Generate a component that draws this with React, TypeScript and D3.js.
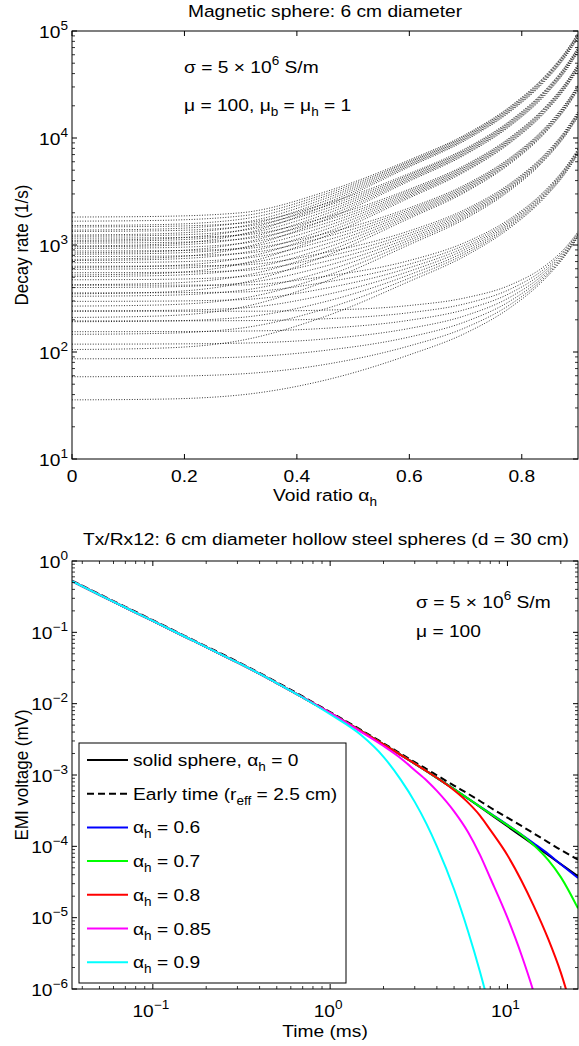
import React from 'react';
import * as d3 from 'd3';

const W = 579;
const H = 1046;
const FONT = '"Liberation Sans", Arial, Helvetica, sans-serif';
const STRETCH = 1.13;

// ---------- Upper panel: decay rates of a hollow magnetic sphere ----------
const voidRatio = [0, 0.15, 0.3, 0.45, 0.6, 0.7, 0.78, 0.84, 0.88, 0.9];

// one array per radial band, one row per angular order l = 1..7
const band1 = [
  [35.7, 36.2, 39.7, 54.5, 94.1, 150, 261, 475, 830, 1187],
  [58.7, 59.2, 62.4, 76.5, 114, 169, 279, 493, 847, 1203],
  [86.4, 86.8, 89.6, 103.5, 138, 192, 301, 514, 867, 1223],
  [118.4, 118.8, 121, 132.4, 166, 219, 327, 538, 890, 1246],
  [154.8, 155.1, 156.7, 166.5, 198, 250, 356, 566, 917, 1271],
  [195.4, 195.5, 196.4, 204.3, 233, 283, 388, 597, 946, 1300],
  [240.3, 240.3, 240.4, 246.2, 272, 321, 424, 631, 979, 1332],
];
const band2 = [
  [105.5, 108.4, 128.1, 214.6, 457, 793, 1457, 2739, 4858, 6990],
  [146.3, 149, 167.1, 252.7, 490, 829, 1503, 2807, 4966, 7140],
  [191.9, 194.3, 210.2, 295.1, 527, 868, 1552, 2879, 5077, 7293],
  [242.3, 244.3, 257.4, 341.6, 568, 912, 1603, 2951, 5190, 7445],
  [297.3, 298.8, 308.5, 393, 613, 957, 1657, 3027, 5305, 7601],
  [357, 357.9, 363.8, 448.3, 662, 1007, 1714, 3105, 5421, 7758],
  [421, 421.3, 423, 509, 716, 1060, 1774, 3185, 5540, 7917],
];
const band3 = [
  [210.3, 216.6, 260.8, 455, 1007, 1765, 3261, 6147, 10918, 15715],
  [268.5, 274.6, 316.1, 510.7, 1056, 1824, 3344, 6284, 11147, 16040],
  [331.8, 337.5, 375.5, 570.5, 1109, 1885, 3429, 6422, 11378, 16364],
  [400, 405.1, 438.4, 633.3, 1164, 1948, 3516, 6563, 11610, 16691],
  [473, 477.3, 505.3, 700.4, 1225, 2015, 3606, 6705, 11843, 17018],
  [550.7, 554.1, 576.2, 772, 1288, 2086, 3698, 6849, 12078, 17346],
  [633.2, 635.6, 650.9, 848.4, 1355, 2158, 3793, 6994, 12314, 17676],
];
const band4 = [
  [349.9, 361.1, 439.7, 785.6, 1774, 3124, 5785, 10918, 19399, 27930],
  [425.6, 436.5, 511, 859.2, 1840, 3210, 5917, 11149, 19797, 28497],
  [506.5, 516.7, 585.9, 935.2, 1909, 3298, 6052, 11381, 20195, 29064],
  [592.2, 601.6, 664.2, 1014.8, 1982, 3388, 6188, 11614, 20595, 29631],
  [683, 691.4, 746.3, 1098.8, 2060, 3482, 6327, 11850, 20994, 30200],
  [778.6, 785.8, 832.2, 1187, 2140, 3577, 6467, 12086, 21396, 30770],
  [879, 884.7, 921.7, 1279, 2223, 3677, 6609, 12323, 21799, 31341],
];
const band5 = [
  [524.4, 541.7, 664.5, 1206, 2756, 4869, 9029, 17053, 30306, 43637],
  [617.6, 634.5, 751.5, 1297, 2843, 4989, 9226, 17404, 30919, 44515],
  [716, 732.1, 841.7, 1391, 2933, 5111, 9423, 17757, 31534, 45395],
  [819.3, 834.3, 935, 1488, 3025, 5234, 9622, 18110, 32149, 46274],
  [927.7, 941.4, 1032, 1589, 3122, 5361, 9823, 18466, 32765, 47155],
  [1040.9, 1053, 1132, 1693, 3221, 5490, 10024, 18821, 33381, 48036],
  [1159, 1169, 1236, 1803, 3324, 5620, 10228, 19178, 33999, 48918],
];
const band6 = [
  [733.8, 758.7, 935.4, 1717, 3956, 7001, 12994, 24551, 43637, 62834],
  [844.5, 868.8, 1038, 1826, 4067, 7161, 13267, 25051, 44516, 64096],
  [960.3, 983.5, 1143, 1938, 4180, 7325, 13542, 25552, 45395, 65357],
  [1081, 1103, 1251, 2053, 4295, 7489, 13817, 26053, 46274, 66619],
  [1207, 1227, 1362, 2172, 4414, 7655, 14095, 26555, 47155, 67881],
  [1338, 1356, 1477, 2294, 4536, 7824, 14373, 27058, 48035, 69144],
  [1474.8, 1491, 1596, 2421, 4661, 7995, 14653, 27561, 48917, 70408],
];
const band7 = [
  [978.2, 1012, 1253, 2317, 5373, 9520, 17680, 33413, 59392, 85523],
  [1106.3, 1139, 1370, 2446, 5511, 9730, 18045, 34087, 60584, 87237],
  [1239.6, 1271, 1490, 2577, 5651, 9940, 18411, 34763, 61777, 88951],
  [1378, 1408, 1612, 2711, 5794, 10153, 18778, 35440, 62970, 90665],
  [1521, 1549, 1738, 2848, 5939, 10367, 19146, 36116, 64163, 92380],
  [1669.8, 1696, 1866, 2989, 6086, 10583, 19515, 36794, 65357, 94094],
  [1825.7, 1849, 2000, 3135, 6237, 10800, 19886, 37473, 66552, 95809],
];
const decayBands = [band1, band2, band3, band4, band5, band6, band7];
const voidTicks = [0, 0.2, 0.4, 0.6, 0.8];
const voidTickLabels = ['0', '0.2', '0.4', '0.6', '0.8'];
const decayExponents = [1, 2, 3, 4, 5];

// ---------- Lower panel: EMI transient response ----------
const timeMs = [0.035, 0.05, 0.07, 0.1, 0.15, 0.2, 0.3, 0.5, 0.7, 1, 1.5, 2, 2.5, 3, 3.5, 4, 5, 6, 7, 8, 10, 12, 14, 17, 20, 25];
type V = number | null;
const solidSphere: V[] = [0.52, 0.336, 0.223, 0.1445, 0.0881, 0.062, 0.0378, 0.01948, 0.01229, 0.00743, 0.00413, 0.00269, 0.001916, 0.001444, 0.001132, 0.000914, 0.000633, 0.000464, 0.000356, 0.000282, 0.000191, 0.0001386, 0.0001057, 0.0000751, 0.0000564, 0.0000381];
const earlyTime: V[] = [0.53, 0.343, 0.228, 0.148, 0.0902, 0.0636, 0.0388, 0.02, 0.01262, 0.00762, 0.00425, 0.00278, 0.00199, 0.00151, 0.00121, 0.00099, 0.00071, 0.000545, 0.000432, 0.00035, 0.000252, 0.000193, 0.000153, 0.000114, 0.000089, 0.000065];
const hollow060: V[] = [0.52, 0.336, 0.223, 0.1445, 0.0881, 0.062, 0.0378, 0.01948, 0.01229, 0.00743, 0.00413, 0.00269, 0.001916, 0.001444, 0.001132, 0.000914, 0.000633, 0.000468, 0.000362, 0.00029, 0.0002, 0.000146, 0.000111, 0.000078, 0.000056, 0.000036];
const hollow070: V[] = [0.52, 0.336, 0.223, 0.1445, 0.0881, 0.062, 0.0378, 0.01948, 0.01229, 0.00743, 0.00413, 0.00269, 0.001916, 0.001444, 0.001132, 0.000914, 0.000635, 0.000468, 0.00036, 0.000287, 0.000198, 0.000145, 0.000105, 0.000064, 0.000037, 0.0000135];
const hollow080: V[] = [0.52, 0.336, 0.223, 0.1445, 0.0881, 0.062, 0.0378, 0.01948, 0.01229, 0.00743, 0.00413, 0.00269, 0.001916, 0.001444, 0.001132, 0.000914, 0.00061, 0.00041, 0.00027, 0.00017, 0.000075, 0.000033, 0.000015, 0.000005, 0.0000017, 0.00000025];
const hollow085: V[] = [0.52, 0.336, 0.223, 0.1445, 0.0881, 0.062, 0.0378, 0.01948, 0.01229, 0.00743, 0.004, 0.00255, 0.00172, 0.00117, 0.00084, 0.0006, 0.00031, 0.000158, 0.000076, 0.000036, 0.00001, 0.000003, 0.00000093, 0.00000015, null, null];
const hollow090: V[] = [0.52, 0.336, 0.223, 0.1445, 0.0881, 0.062, 0.0378, 0.01948, 0.0122, 0.0071, 0.0036, 0.0018, 0.00086, 0.00042, 0.000205, 0.0001, 0.000025, 0.0000064, 0.00000175, 0.0000005, null, null, null, null, null, null];

const emiSeries = [
  { values: solidSphere, color: '#000000', dash: '', tail: ' = 0' },
  { values: earlyTime, color: '#000000', dash: '7,4', tail: '' },
  { values: hollow060, color: '#0000ff', dash: '', tail: ' = 0.6' },
  { values: hollow070, color: '#00ff00', dash: '', tail: ' = 0.7' },
  { values: hollow080, color: '#ff0000', dash: '', tail: ' = 0.8' },
  { values: hollow085, color: '#ff00ff', dash: '', tail: ' = 0.85' },
  { values: hollow090, color: '#00ffff', dash: '', tail: ' = 0.9' },
];
const timeMajor = [0.1, 1, 10];
const timeExponents = ['\u22121', '0', '1'];
const emiExponents = [-6, -5, -4, -3, -2, -1, 0];

// ---------- geometry ----------
const top = { left: 72, right: 578, top: 31, bottom: 459 };
const bot = { left: 72, right: 578, top: 561, bottom: 989 };

const xVoid = d3.scaleLinear().domain([0, 0.9]).range([top.left, top.right]);
const yDecay = d3.scaleLog().domain([10, 1e5]).range([top.bottom, top.top]);
const xTime = d3.scaleLog().domain([0.035, 25]).range([bot.left, bot.right]);
const yEmi = d3.scaleLog().domain([1e-6, 1]).range([bot.bottom, bot.top]);

function logMinors(lo: number, hi: number): number[] {
  const out: number[] = [];
  for (let e = Math.floor(Math.log10(lo)); e <= Math.ceil(Math.log10(hi)); e++) {
    for (let k = 2; k <= 9; k++) {
      const v = k * Math.pow(10, e);
      if (v > lo * 1.0001 && v < hi * 0.9999) out.push(v);
    }
  }
  return out;
}

function Txt(props: { x: number; y: number; anchor?: string; size?: number; rotate?: number; children: React.ReactNode }) {
  const { x, y, anchor = 'start', size = 17, rotate, children } = props;
  const t = `translate(${x},${y}) scale(${STRETCH},1)` + (rotate ? ` rotate(${rotate})` : '');
  return (
    <g transform={t}>
      <text textAnchor={anchor} fontSize={size} fontFamily={FONT} fill="#000">
        {children}
      </text>
    </g>
  );
}

const SUP = { fontSize: 12 };

function Pow10({ x, y, exp, anchor }: { x: number; y: number; exp: string; anchor: string }) {
  return (
    <Txt x={x} y={y} anchor={anchor}>
      10<tspan {...SUP} dy={-8}>{exp}</tspan>
    </Txt>
  );
}

function Frame({ b }: { b: typeof top }) {
  return (
    <rect x={b.left} y={b.top} width={b.right - b.left} height={b.bottom - b.top} fill="none" stroke="#000" strokeWidth={1} />
  );
}

export default function App() {
  const decayLine = d3
    .line<[number, number]>()
    .x((d) => xVoid(d[0]))
    .y((d) => yDecay(d[1]))
    .curve(d3.curveMonotoneX);

  const emiLine = d3
    .line<[number, V]>()
    .defined((d) => d[1] != null)
    .x((d) => xTime(d[0]))
    .y((d) => yEmi(d[1] as number))
    .curve(d3.curveMonotoneX);

  const decayMinors = logMinors(10, 1e5);
  const timeMinors = logMinors(0.035, 25);
  const emiMinors = logMinors(1e-6, 1);

  const legendTop = 743;
  const legendRow = (i: number) => 760 + i * 33.7;

  return (
    <svg width={W} height={H} style={{ position: 'absolute', left: 0, top: 0, background: '#fff' }} xmlns="http://www.w3.org/2000/svg">
      <rect x={0} y={0} width={W} height={H} fill="#fff" />
      <defs>
        <clipPath id="clipTop">
          <rect x={top.left} y={top.top} width={top.right - top.left} height={top.bottom - top.top} />
        </clipPath>
        <clipPath id="clipBot">
          <rect x={bot.left} y={bot.top} width={bot.right - bot.left} height={bot.bottom - bot.top} />
        </clipPath>
      </defs>

      {/* ===== Upper panel ===== */}
      <Txt x={(top.left + top.right) / 2} y={17} anchor="middle">Magnetic sphere: 6 cm diameter</Txt>

      <g clipPath="url(#clipTop)">
        {decayBands.map((band, bi) =>
          band.map((row, li) => (
            <path
              key={`b${bi}-${li}`}
              d={decayLine(row.map((v, i) => [voidRatio[i], v] as [number, number])) || ''}
              fill="none"
              stroke="#000"
              strokeWidth={0.8}
              strokeDasharray="1,1.6"
            />
          ))
        )}
      </g>

      {voidTicks.map((v) => (
        <g key={`vt${v}`}>
          <line x1={xVoid(v)} x2={xVoid(v)} y1={top.bottom} y2={top.bottom - 5} stroke="#000" />
          <line x1={xVoid(v)} x2={xVoid(v)} y1={top.top} y2={top.top + 5} stroke="#000" />
        </g>
      ))}
      {decayExponents.map((e) => (
        <g key={`dt${e}`}>
          <line x1={top.left} x2={top.left + 5} y1={yDecay(Math.pow(10, e))} y2={yDecay(Math.pow(10, e))} stroke="#000" />
          <line x1={top.right} x2={top.right - 5} y1={yDecay(Math.pow(10, e))} y2={yDecay(Math.pow(10, e))} stroke="#000" />
        </g>
      ))}
      {decayMinors.map((v) => (
        <g key={`dm${v}`}>
          <line x1={top.left} x2={top.left + 3} y1={yDecay(v)} y2={yDecay(v)} stroke="#000" strokeWidth={0.8} />
          <line x1={top.right} x2={top.right - 3} y1={yDecay(v)} y2={yDecay(v)} stroke="#000" strokeWidth={0.8} />
        </g>
      ))}
      <Frame b={top} />

      {voidTicks.map((v, i) => (
        <Txt key={`vl${v}`} x={xVoid(v)} y={482} anchor="middle">{voidTickLabels[i]}</Txt>
      ))}
      {decayExponents.map((e) => (
        <Pow10 key={`dl${e}`} x={68} y={yDecay(Math.pow(10, e)) + 6.5} exp={String(e)} anchor="end" />
      ))}

      <Txt x={(top.left + top.right) / 2} y={501} anchor="middle">
        Void ratio {'\u03B1'}<tspan {...SUP} dy={5}>h</tspan>
      </Txt>
      <Txt x={28} y={(top.top + top.bottom) / 2} anchor="middle" rotate={-90}>Decay rate (1/s)</Txt>

      <Txt x={184} y={73}>
        {'\u03C3 = 5 \u00D7 10'}<tspan {...SUP} dy={-8}>6</tspan><tspan dy={8}> S/m</tspan>
      </Txt>
      <Txt x={184} y={111}>
        {'\u03BC = 100, \u03BC'}<tspan {...SUP} dy={5}>b</tspan><tspan dy={-5}>{' = \u03BC'}</tspan>
        <tspan {...SUP} dy={5}>h</tspan><tspan dy={-5}> = 1</tspan>
      </Txt>

      {/* ===== Lower panel ===== */}
      <Txt x={326} y={545} anchor="middle">Tx/Rx12: 6 cm diameter hollow steel spheres (d = 30 cm)</Txt>

      <g clipPath="url(#clipBot)">
        {emiSeries.map((s, i) => (
          <path
            key={`e${i}`}
            d={emiLine(timeMs.map((t, k) => [t, s.values[k]] as [number, V])) || ''}
            fill="none"
            stroke={s.color}
            strokeWidth={2}
            strokeDasharray={s.dash || undefined}
          />
        ))}
      </g>

      {timeMajor.map((t) => (
        <g key={`tt${t}`}>
          <line x1={xTime(t)} x2={xTime(t)} y1={bot.bottom} y2={bot.bottom - 5} stroke="#000" />
          <line x1={xTime(t)} x2={xTime(t)} y1={bot.top} y2={bot.top + 5} stroke="#000" />
        </g>
      ))}
      {timeMinors.map((t) => (
        <g key={`tm${t}`}>
          <line x1={xTime(t)} x2={xTime(t)} y1={bot.bottom} y2={bot.bottom - 3} stroke="#000" strokeWidth={0.8} />
          <line x1={xTime(t)} x2={xTime(t)} y1={bot.top} y2={bot.top + 3} stroke="#000" strokeWidth={0.8} />
        </g>
      ))}
      {emiExponents.map((e) => (
        <g key={`et${e}`}>
          <line x1={bot.left} x2={bot.left + 5} y1={yEmi(Math.pow(10, e))} y2={yEmi(Math.pow(10, e))} stroke="#000" />
          <line x1={bot.right} x2={bot.right - 5} y1={yEmi(Math.pow(10, e))} y2={yEmi(Math.pow(10, e))} stroke="#000" />
        </g>
      ))}
      {emiMinors.map((v) => (
        <g key={`em${v}`}>
          <line x1={bot.left} x2={bot.left + 3} y1={yEmi(v)} y2={yEmi(v)} stroke="#000" strokeWidth={0.8} />
          <line x1={bot.right} x2={bot.right - 3} y1={yEmi(v)} y2={yEmi(v)} stroke="#000" strokeWidth={0.8} />
        </g>
      ))}
      <Frame b={bot} />

      {timeMajor.map((t, i) => (
        <Pow10 key={`tl${t}`} x={xTime(t) - 2} y={1017} exp={timeExponents[i]} anchor="middle" />
      ))}
      {emiExponents.map((e) => (
        <Pow10 key={`el${e}`} x={68} y={yEmi(Math.pow(10, e)) + 6.5} exp={e < 0 ? `\u2212${-e}` : String(e)} anchor="end" />
      ))}

      <Txt x={(bot.left + bot.right) / 2} y={1037} anchor="middle">Time (ms)</Txt>
      <Txt x={28} y={(bot.top + bot.bottom) / 2} anchor="middle" rotate={-90}>EMI voltage (mV)</Txt>

      <Txt x={416} y={608}>
        {'\u03C3 = 5 \u00D7 10'}<tspan {...SUP} dy={-8}>6</tspan><tspan dy={8}> S/m</tspan>
      </Txt>
      <Txt x={416} y={637}>{'\u03BC  = 100'}</Txt>

      {/* legend */}
      <rect x={79} y={legendTop} width={267} height={240} fill="#fff" stroke="#000" strokeWidth={1} />
      {emiSeries.map((s, i) => {
        const y = legendRow(i);
        return (
          <g key={`lg${i}`}>
            <line x1={87} x2={128} y1={y} y2={y} stroke={s.color} strokeWidth={2} strokeDasharray={s.dash || undefined} />
            {i === 0 && (
              <Txt x={133} y={y + 6}>
                {'solid sphere, \u03B1'}<tspan {...SUP} dy={5}>h</tspan><tspan dy={-5}>{s.tail}</tspan>
              </Txt>
            )}
            {i === 1 && (
              <Txt x={133} y={y + 6}>
                Early time (r<tspan {...SUP} dy={5}>eff</tspan><tspan dy={-5}> = 2.5 cm)</tspan>
              </Txt>
            )}
            {i > 1 && (
              <Txt x={133} y={y + 6}>
                {'\u03B1'}<tspan {...SUP} dy={5}>h</tspan><tspan dy={-5}>{s.tail}</tspan>
              </Txt>
            )}
          </g>
        );
      })}
    </svg>
  );
}
